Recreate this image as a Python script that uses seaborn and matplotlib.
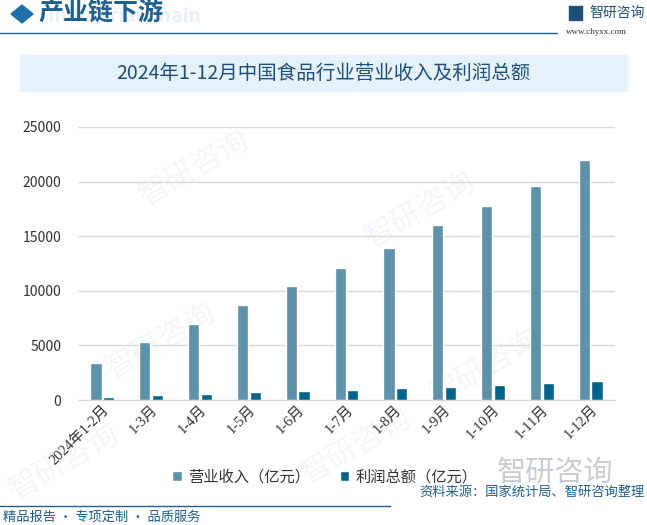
import seaborn as sns
import matplotlib.pyplot as plt
import pandas as pd
from matplotlib.patches import Rectangle, RegularPolygon

# data
periods = ['2024年1-2月', '1-3月', '1-4月', '1-5月', '1-6月', '1-7月',
           '1-8月', '1-9月', '1-10月', '1-11月', '1-12月']
revenue = [3420, 5350, 7000, 8740, 10480, 12130, 13960, 15980, 17780, 19620, 21940]
profit = [305, 460, 580, 765, 855, 950, 1130, 1220, 1405, 1590, 1770]
series_names = ['营业收入（亿元）', '利润总额（亿元）']
colors = ['#5E92A9', '#02648A']

df = pd.DataFrame({
    'period': periods * 2,
    'value': revenue + profit,
    'series': [series_names[0]] * len(periods) + [series_names[1]] * len(periods),
})

sns.set_style('white')
plt.rcParams['font.family'] = ['Noto Sans CJK SC', 'DejaVu Sans']

fig = plt.figure(figsize=(6.47, 5.25), dpi=100)

# faint watermarks behind everything
for (x, y) in [(0.3, 0.68), (0.65, 0.6), (0.25, 0.35), (0.75, 0.3), (0.1, 0.12), (0.55, 0.15)]:
    fig.text(x, y, '智研咨询', fontsize=22, color='#f2f6f9', rotation=30,
             ha='center', va='center', zorder=-5)

ax = fig.add_axes([78 / 647, 1 - 400 / 525, (615 - 78) / 647, (400 - 127) / 525])
ax.patch.set_alpha(0)

sns.barplot(data=df, x='period', y='value', hue='series', palette=colors,
            width=0.52, gap=0.12, ax=ax, legend=True, saturation=1)

ax.set_ylim(0, 25000)
ax.set_yticks(range(0, 25001, 5000))
ax.yaxis.grid(True, color='#d9d9d9', linewidth=1)
ax.set_axisbelow(True)
for s in ['top', 'right', 'left']:
    ax.spines[s].set_visible(False)
ax.spines['bottom'].set_color('#d9d9d9')
ax.set_xlabel('')
ax.set_ylabel('')
ax.tick_params(axis='y', length=0, labelsize=10, colors='#333333', pad=12)
ax.tick_params(axis='x', length=0, colors='#333333', pad=2)
ax.set_xticks(range(len(periods)))
ax.set_xticklabels(periods, rotation=45, ha='right', rotation_mode='anchor',
                   fontsize=10.5, family=['Liberation Serif', 'Noto Sans CJK SC'])
ax.set_xlim(-0.5, len(periods) - 0.5)

leg = ax.legend(loc='upper center', bbox_to_anchor=(0.46, -0.2), ncol=2, frameon=False,
                fontsize=11, handlelength=0.6, handleheight=0.6, handletextpad=0.4,
                columnspacing=2.0)
for t in leg.get_texts():
    t.set_color('#333333')

# header
fig.add_artist(RegularPolygon((22 / 647, 1 - 14 / 525), 4, radius=0.017,
                              transform=fig.transFigure, color='#1F6FA8'))
fig.text(48 / 647, 1 - 17 / 525, 'Industrial Chain', fontsize=14, color='#e9f0f6',
         fontweight='bold', va='center', ha='left', zorder=-1)
fig.text(38 / 647, 1 - 14 / 525, '产业链下游', fontsize=18, color='#1F5F8F',
         fontweight='bold', va='center', ha='left')
fig.add_artist(plt.Line2D([0, 557 / 647], [1 - 33 / 525, 1 - 33 / 525],
                          color='#1F5F8F', linewidth=1, transform=fig.transFigure))
fig.add_artist(Rectangle((569 / 647, 1 - 20 / 525), 13 / 647, 14 / 525,
                         transform=fig.transFigure, color='#1F4E79'))
fig.text(589 / 647, 1 - 13 / 525, '智研咨询', fontsize=10, color='#1F4E79',
         va='center', ha='left')
fig.text(566 / 647, 1 - 32 / 525, 'www.chyxx.com', fontsize=6.5, color='#333333',
         va='center', ha='left', family='Liberation Serif')

# title band
fig.add_artist(Rectangle((20 / 647, 1 - 91 / 525), (627 - 20) / 647, 36 / 525,
                         transform=fig.transFigure, color='#E5F2FB'))
fig.text(0.5, 1 - 73 / 525, '2024年1-12月中国食品行业营业收入及利润总额', fontsize=14,
         color='#1F4E79', va='center', ha='center', fontweight='medium')

# footer
fig.text(555 / 647, 1 - 473 / 525, '智研咨询', fontsize=21, color='#c8cdd2',
         va='center', ha='center', zorder=-1)
fig.text(647 / 647 - 0.003, 1 - 492 / 525, '资料来源：国家统计局、智研咨询整理', fontsize=9.5,
         color='#1F5F8F', va='center', ha='right')
fig.add_artist(plt.Line2D([0, 390 / 647], [1 - 506 / 525, 1 - 506 / 525],
                          color='#1F5F8F', linewidth=1, transform=fig.transFigure))
fig.text(3 / 647, 1 - 517 / 525, '精品报告 · 专项定制 · 品质服务', fontsize=9.5,
         color='#1F5F8F', va='center', ha='left')

fig.savefig('out.png', dpi=100)
